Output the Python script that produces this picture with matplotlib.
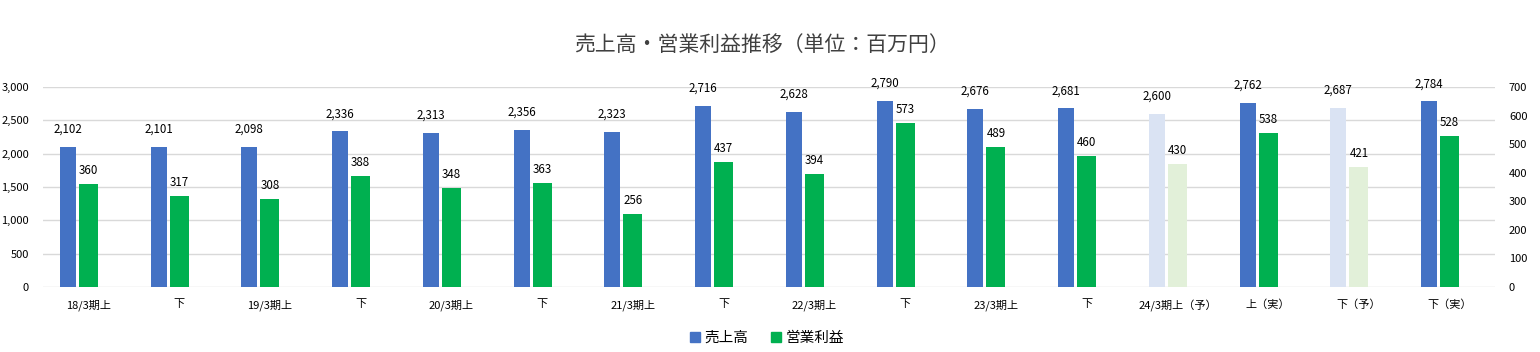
import matplotlib.pyplot as plt
import numpy as np

plt.rcParams['font.family'] = ['Noto Sans CJK JP', 'DejaVu Sans']

# データ
categories = ['18/3期上', '下', '19/3期上', '下', '20/3期上', '下', '21/3期上', '下',
              '22/3期上', '下', '23/3期上', '下', '24/3期上（予）', '上（実）', '下（予）', '下（実）']
sales = [2102, 2101, 2098, 2336, 2313, 2356, 2323, 2716, 2628, 2790, 2676, 2681, 2600, 2762, 2687, 2784]
profit = [360, 317, 308, 388, 348, 363, 256, 437, 394, 573, 489, 460, 430, 538, 421, 528]
forecast = [12, 14]  # 予想の期

blue, green = '#4472C4', '#00B050'
light_blue, light_green = '#DAE3F3', '#E2F0D9'
text_col = '#404040'

x = np.arange(len(categories))
c_sales = [light_blue if i in forecast else blue for i in x]
c_profit = [light_green if i in forecast else green for i in x]

fig = plt.figure(figsize=(15.4, 3.52), dpi=100)
ax = fig.add_axes([0.0279, 0.1847, 0.9429, 0.5681])
ax2 = ax.twinx()

ax.bar(x - 0.226, sales, width=0.176, color=c_sales, zorder=3)
ax2.bar(x, profit, width=0.21, color=c_profit, zorder=3)

ax.set_xlim(-0.5, len(categories) - 0.5)
ax.set_ylim(0, 3000)
ax2.set_ylim(0, 700)
ax.set_yticks(np.arange(0, 3001, 500))
ax2.set_yticks(np.arange(0, 701, 100))
ax.yaxis.set_major_formatter(plt.FuncFormatter(lambda v, p: f'{int(v):,}'))

ax.grid(axis='y', color='#D9D9D9', linewidth=1, zorder=0)
for a in (ax, ax2):
    for s in a.spines.values():
        s.set_visible(False)
    a.tick_params(length=0, labelsize=8, colors='black')
ax.tick_params(axis='y', pad=10)
ax2.tick_params(axis='y', pad=10)

ax.set_xticks(x)
ax.set_xticklabels(categories, fontsize=8)
ax.tick_params(axis='x', pad=9)

# データラベル
for i in x:
    ax.annotate(f'{sales[i]:,}', (i - 0.226, sales[i]), xytext=(0, 8),
                textcoords='offset points', ha='center', va='bottom', fontsize=8.3)
    ax2.annotate(f'{profit[i]:,}', (i, profit[i]), xytext=(0, 5),
                 textcoords='offset points', ha='center', va='bottom', fontsize=8.3)

fig.text(0.495, 0.872, '売上高・営業利益推移（単位：百万円）', ha='center', va='center',
         fontsize=15, color=text_col)

# 凡例
handles = [plt.Rectangle((0, 0), 1, 1, color=blue), plt.Rectangle((0, 0), 1, 1, color=green)]
fig.legend(handles, ['売上高', '営業利益'], loc='center', bbox_to_anchor=(0.498, 0.04),
           ncol=2, frameon=False, fontsize=10.5, handlelength=0.7, handleheight=0.7,
           handletextpad=0.3, columnspacing=1.5)

fig.savefig('out.png', dpi=100)
